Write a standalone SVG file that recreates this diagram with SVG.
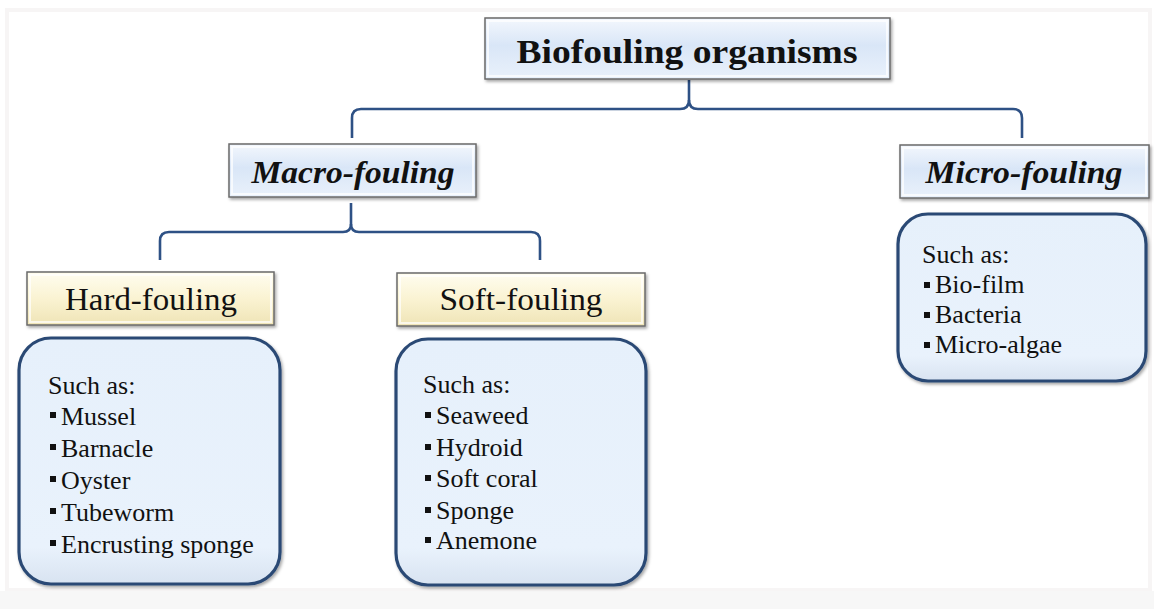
<svg xmlns="http://www.w3.org/2000/svg" width="1154" height="609" viewBox="0 0 1154 609">
  <defs>
    <linearGradient id="blueBar" x1="0" y1="0" x2="0" y2="1">
      <stop offset="0" stop-color="#f3f7fd"/>
      <stop offset="0.45" stop-color="#d9e6f7"/>
      <stop offset="1" stop-color="#e9f1fb"/>
    </linearGradient>
    <linearGradient id="creamBar" x1="0" y1="0" x2="0" y2="1">
      <stop offset="0" stop-color="#fffdf0"/>
      <stop offset="0.5" stop-color="#faf3d2"/>
      <stop offset="1" stop-color="#efe4b6"/>
    </linearGradient>
    <linearGradient id="panel" x1="0" y1="0" x2="0" y2="1">
      <stop offset="0" stop-color="#e6f0fb"/>
      <stop offset="0.85" stop-color="#e9f2fc"/>
      <stop offset="1" stop-color="#d8e3f1"/>
    </linearGradient>
    <filter id="shadow" x="-10%" y="-10%" width="125%" height="125%">
      <feDropShadow dx="1.5" dy="2" stdDeviation="1.8" flood-color="#000" flood-opacity="0.35"/>
    </filter>
    <style>
      .bar { stroke: #6a6a6a; stroke-width: 1.5; }
      .bevel { fill: none; stroke: #ffffff; stroke-opacity: 0.7; stroke-width: 2; }
      .panel { fill: url(#panel); stroke: #2c4a74; stroke-width: 3.2; }
      .conn { fill: none; stroke: #2e5185; stroke-width: 2.6; stroke-linejoin: round; }
      .t { font-family: "Liberation Serif", "Times New Roman", serif; fill: #111; }
      .title { font-size: 33px; font-weight: bold; }
      .sub { font-size: 32px; font-weight: bold; font-style: italic; }
      .cat { font-size: 32px; }
      .item { font-size: 26px; }
      .bul { fill: #111; }
    </style>
  </defs>

  <rect x="0" y="0" width="1154" height="609" fill="#ffffff"/>
  <rect x="7" y="10" width="1143" height="580" fill="none" stroke="#f7f5f5" stroke-width="4"/>
  <rect x="0" y="591" width="1154" height="18" fill="#f7f7f7"/>

  <g id="connectors">
    <path class="conn" d="M689,80 L689,100 Q689,109 680,109 L361,109 Q352,109 352,118 L352,138"/>
    <path class="conn" d="M689,100 Q689,109 698,109 L1013,109 Q1022,109 1022,118 L1022,138"/>
    <path class="conn" d="M351,203 L351,224 Q351,232 343,232 L169,232 Q160,232 160,241 L160,260"/>
    <path class="conn" d="M351,224 Q351,232 359,232 L531,232 Q540,232 540,241 L540,260"/>
  </g>

  <g id="node-title">
    <rect class="bar" x="485" y="18" width="405" height="61" fill="url(#blueBar)" filter="url(#shadow)"/>
    <rect class="bevel" x="488" y="21" width="399" height="55"/>
    <text class="t title" x="687" y="63" text-anchor="middle" textLength="341" lengthAdjust="spacingAndGlyphs">Biofouling organisms</text>
  </g>

  <g id="node-macro">
    <rect class="bar" x="229" y="144" width="247" height="53" fill="url(#blueBar)" filter="url(#shadow)"/>
    <rect class="bevel" x="232" y="147" width="241" height="47"/>
    <text class="t sub" x="353" y="183" text-anchor="middle" textLength="203" lengthAdjust="spacingAndGlyphs">Macro-fouling</text>
  </g>

  <g id="node-micro">
    <rect class="bar" x="900" y="145" width="249" height="53" fill="url(#blueBar)" filter="url(#shadow)"/>
    <rect class="bevel" x="903" y="148" width="243" height="47"/>
    <text class="t sub" x="1024" y="183" text-anchor="middle" textLength="197" lengthAdjust="spacingAndGlyphs">Micro-fouling</text>
  </g>

  <g id="node-hard">
    <rect class="bar" x="27" y="272" width="247" height="53" fill="url(#creamBar)" filter="url(#shadow)"/>
    <rect class="bevel" x="30" y="275" width="241" height="47"/>
    <text class="t cat" x="151" y="310" text-anchor="middle" textLength="172" lengthAdjust="spacingAndGlyphs">Hard-fouling</text>
  </g>

  <g id="node-soft">
    <rect class="bar" x="397" y="273" width="248" height="53" fill="url(#creamBar)" filter="url(#shadow)"/>
    <rect class="bevel" x="400" y="276" width="242" height="47"/>
    <text class="t cat" x="521" y="310" text-anchor="middle" textLength="163" lengthAdjust="spacingAndGlyphs">Soft-fouling</text>
  </g>

  <g id="node-hard-list">
    <rect class="panel" x="19" y="338" width="261" height="246" rx="32" filter="url(#shadow)"/>
    <text class="t item" x="48" y="394">Such as:</text>
    <rect class="bul" x="50" y="412" width="6" height="6"/>
    <text class="t item" x="61" y="425">Mussel</text>
    <rect class="bul" x="50" y="444" width="6" height="6"/>
    <text class="t item" x="61" y="457">Barnacle</text>
    <rect class="bul" x="50" y="476" width="6" height="6"/>
    <text class="t item" x="61" y="489">Oyster</text>
    <rect class="bul" x="50" y="508" width="6" height="6"/>
    <text class="t item" x="61" y="521">Tubeworm</text>
    <rect class="bul" x="50" y="540" width="6" height="6"/>
    <text class="t item" x="61" y="553">Encrusting sponge</text>
  </g>

  <g id="node-soft-list">
    <rect class="panel" x="396" y="339" width="250" height="246" rx="32" filter="url(#shadow)"/>
    <text class="t item" x="423" y="393">Such as:</text>
    <rect class="bul" x="425" y="412" width="6" height="6"/>
    <text class="t item" x="436" y="424">Seaweed</text>
    <rect class="bul" x="425" y="444" width="6" height="6"/>
    <text class="t item" x="436" y="456">Hydroid</text>
    <rect class="bul" x="425" y="475" width="6" height="6"/>
    <text class="t item" x="436" y="487">Soft coral</text>
    <rect class="bul" x="425" y="507" width="6" height="6"/>
    <text class="t item" x="436" y="519">Sponge</text>
    <rect class="bul" x="425" y="537" width="6" height="6"/>
    <text class="t item" x="436" y="549">Anemone</text>
  </g>

  <g id="node-micro-list">
    <rect class="panel" x="898" y="214" width="248" height="167" rx="30" filter="url(#shadow)"/>
    <text class="t item" x="922" y="263">Such as:</text>
    <rect class="bul" x="924" y="282" width="6" height="6"/>
    <text class="t item" x="935" y="293">Bio-film</text>
    <rect class="bul" x="924" y="312" width="6" height="6"/>
    <text class="t item" x="935" y="323">Bacteria</text>
    <rect class="bul" x="924" y="342" width="6" height="6"/>
    <text class="t item" x="935" y="353">Micro-algae</text>
  </g>
</svg>
